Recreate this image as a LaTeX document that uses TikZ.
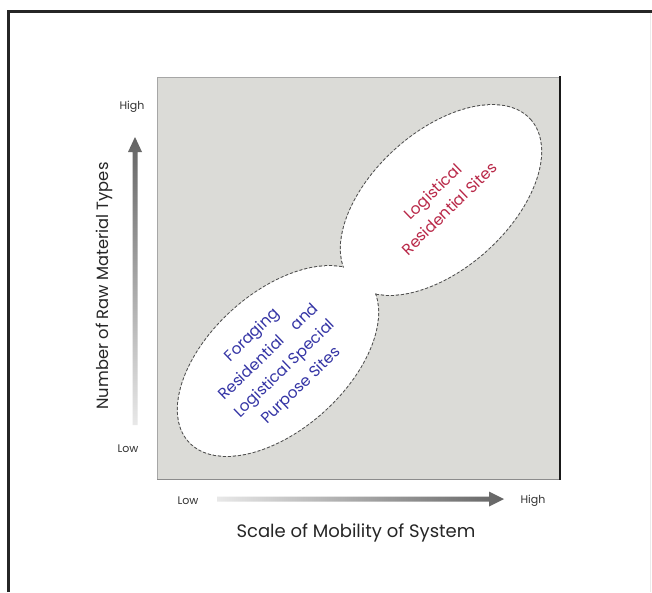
\documentclass[tikz,border=0pt]{standalone}
\usepackage{fontspec}
\setmainfont{Poppins}
\definecolor{panelgray}{RGB}{219,219,215}
\definecolor{bluetxt}{RGB}{52,52,165}
\definecolor{redtxt}{RGB}{185,40,72}
\definecolor{arrdark}{RGB}{100,100,100}
\definecolor{arrlight}{RGB}{232,232,232}
\begin{document}
\begin{tikzpicture}[x=1pt,y=-1pt,
  lbl/.style={text=black!80, font=\fontsize{11}{12}\selectfont, inner sep=0pt},
  axtitle/.style={text=black!85, inner sep=0pt},
  intext/.style={align=center, inner sep=0pt, rotate=44, font=\fontsize{15.5}{23.5}\selectfont},
  outl/.style={draw=black!70, line width=2pt, dash pattern=on 3pt off 2pt}]
\useasboundingbox (0,0) rectangle (652,592);
\fill[white] (0,0) rectangle (652,592);
% frame
\draw[line width=3pt, black!85, line join=miter] (8.5,592) -- (8.5,11) -- (652,11);
\draw[black!8, line width=1pt] (650,12.5) -- (650,592);
% panel
\fill[panelgray] (157,77) rectangle (560,479);
\draw[black!35, line width=0.8pt] (157,479) -- (157,77) -- (560,77);
\draw[black!45, line width=1pt] (157,479) -- (560,479);
\draw[black!90, line width=2pt] (560,76) -- (560,480);
% ellipses (union outline)
\coordinate (cup) at (441,200);
\coordinate (clow) at (278,361);
\draw[outl, rotate around={42:(cup)}] (cup) ellipse [x radius=120, y radius=68];
\draw[outl, rotate around={42:(clow)}] (clow) ellipse [x radius=120, y radius=68];
\fill[white, rotate around={42:(cup)}] (cup) ellipse [x radius=120, y radius=68];
\fill[white, rotate around={42:(clow)}] (clow) ellipse [x radius=120, y radius=68];
% ellipse texts
\node[intext, text=redtxt] (uptxt) at (441,200) {Logistical\\Residential Sites};
\node[intext, text=bluetxt] (lowtxt) at (277,361) {Foraging\\Residential\quad and\\Logistical Special\\Purpose Sites};
% vertical arrow
\coordinate (vbot) at (135,425);
\coordinate (vtip) at (135,137);
\shade[top color=arrdark, bottom color=arrlight]
  (132.5,425) -- (132.5,152) -- (128,152) -- (vtip) -- (142,152) -- (137.5,152) -- (137.5,425) -- cycle;
% horizontal arrow
\coordinate (hbeg) at (217,499);
\coordinate (htip) at (504,499);
\shade[left color=arrlight, right color=arrdark]
  (217,496.5) -- (489,496.5) -- (489,491.5) -- (htip) -- (489,506.5) -- (489,501.5) -- (217,501.5) -- cycle;
% labels
\node[lbl] (yhigh) at (132,107) {High};
\node[lbl] (ylow) at (128,449) {Low};
\node[lbl] (xlow) at (188,501) {Low};
\node[lbl] (xhigh) at (533,501) {High};
\node[axtitle, rotate=90, font=\fontsize{16.3}{18}\selectfont] (ytitle) at (104,286) {Number of Raw Material Types};
\node[axtitle, font=\fontsize{18}{20}\selectfont] (xtitle) at (356,533) {Scale of Mobility of System};
\end{tikzpicture}
\end{document}
